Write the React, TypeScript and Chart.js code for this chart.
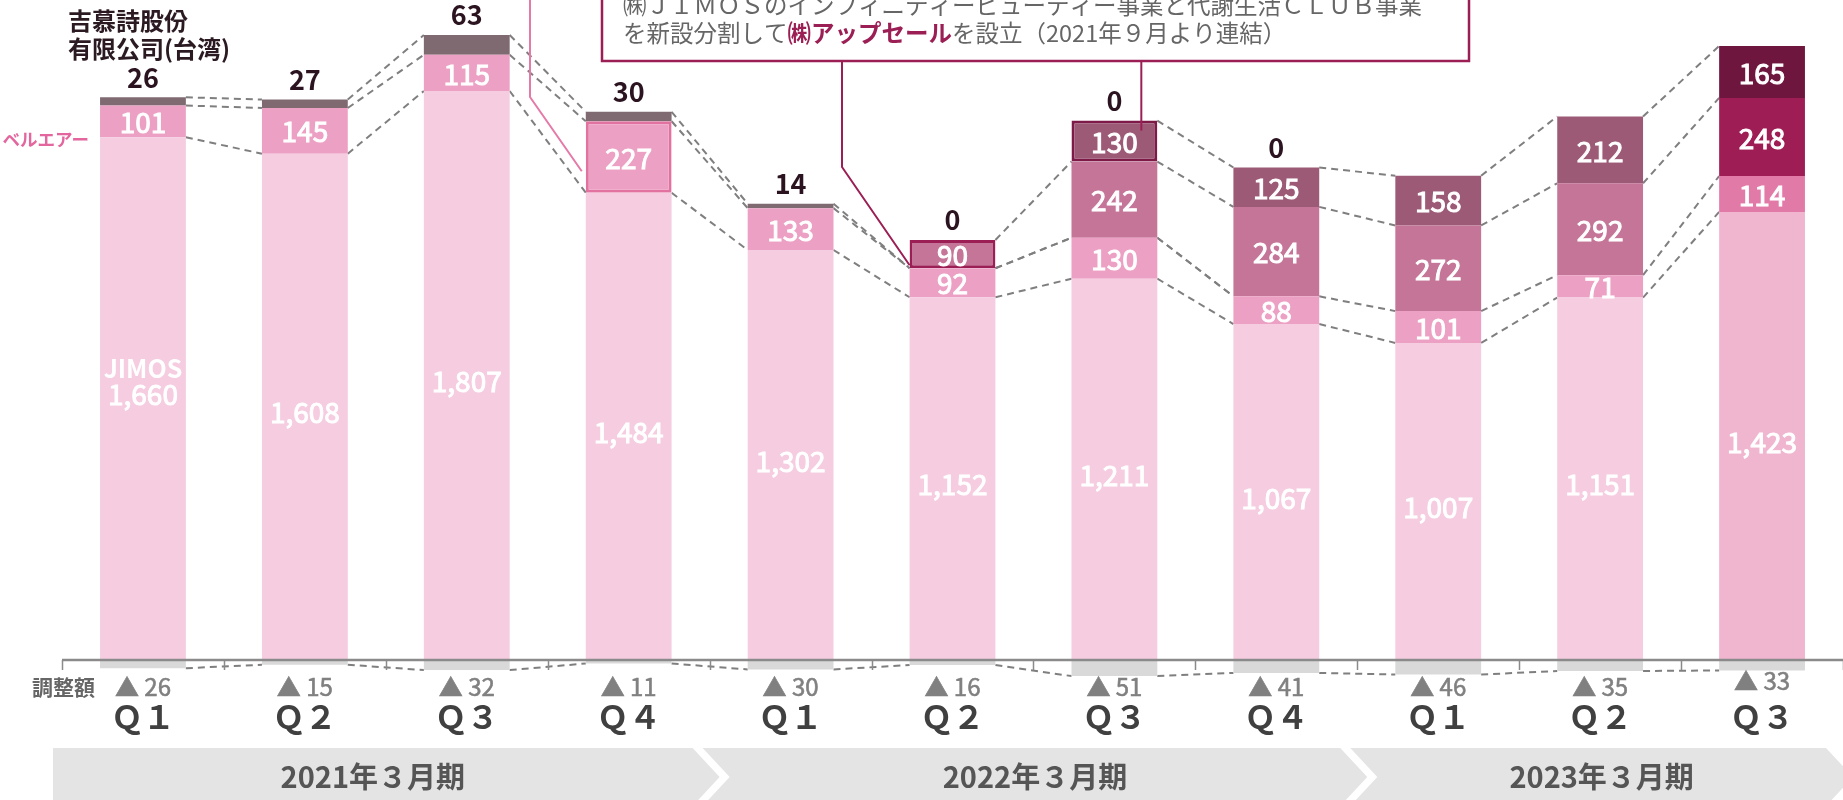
import React, { useEffect, useRef } from "react";
import { Chart, registerables } from "chart.js";

Chart.register(...registerables);

const FONT = '"Noto Sans CJK JP", "Noto Sans", sans-serif';

// ---- data ----
const categories = [
  "2021/3 Q1", "2021/3 Q2", "2021/3 Q3", "2021/3 Q4",
  "2022/3 Q1", "2022/3 Q2", "2022/3 Q3", "2022/3 Q4",
  "2023/3 Q1", "2023/3 Q2", "2023/3 Q3",
];
const quarterLabels = ["Ｑ１", "Ｑ２", "Ｑ３", "Ｑ４", "Ｑ１", "Ｑ２", "Ｑ３", "Ｑ４", "Ｑ１", "Ｑ２", "Ｑ３"];
const fiscalYears = ["2021年３月期", "2022年３月期", "2023年３月期"];
const fiscalYearQuarters = [4, 4, 3];

const adjustment = [-26, -15, -32, -11, -30, -16, -51, -41, -46, -35, -33];
const jimos = [1660, 1608, 1807, 1484, 1302, 1152, 1211, 1067, 1007, 1151, 1423];
const belair = [101, 145, 115, 227, 133, 92, 130, 88, 101, 71, 114];
const taiwan = [26, 27, 63, 30, 14, 0, 0, 0, null, null, null];
const upsell = [null, null, null, null, null, 90, 242, 284, 272, 292, 248];
const otherSeg = [null, null, null, null, null, null, 130, 125, 158, 212, 165];

const calloutLine1 = "㈱ＪＩＭＯＳのインフィニティービューティー事業と代謝生活ＣＬＵＢ事業";
const calloutLine2: [string, boolean][] = [
  ["を新設分割して", false],
  ["㈱アップセール", true],
  ["を設立（2021年９月より連結）", false],
];

const LAST = 10;
const pick = (i: number, normal: string, last: string) => (i === LAST ? last : normal);
const fmt = (v: number) => v.toLocaleString("en-US");

function getEl(chart: any, di: number, i: number) {
  return chart.getDatasetMeta(di).data[i];
}

// cumulative top value of dataset di at bar i
function cumTop(chart: any, di: number, i: number) {
  const dss = chart.data.datasets;
  if (di === 0) return dss[0].data[i];
  let s = 0;
  for (let k = 1; k <= di; k++) s += dss[k].data[i] || 0;
  return s;
}

// medium-weight text: fill plus a thin stroke of the same colour
function mediumText(ctx: any, t: string, x: number, y: number, w = 0.8) {
  ctx.fillText(t, x, y);
  ctx.lineWidth = w;
  ctx.strokeStyle = ctx.fillStyle;
  ctx.strokeText(t, x, y);
}

const overlayPlugin = {
  id: "overlay",
  beforeDatasetsDraw(chart: any) {
    const ctx = chart.ctx;
    const ys = chart.scales.y;
    ctx.save();
    ctx.strokeStyle = "#7f7f7f";
    ctx.lineWidth = 2;
    ctx.setLineDash([7, 5]);
    chart.data.datasets.forEach((ds: any, di: number) => {
      const meta = chart.getDatasetMeta(di);
      for (let i = 0; i < ds.data.length - 1; i++) {
        if (ds.data[i] == null || ds.data[i + 1] == null) continue;
        const a = meta.data[i];
        const b = meta.data[i + 1];
        ctx.beginPath();
        ctx.moveTo(a.x + a.width / 2, ys.getPixelForValue(cumTop(chart, di, i)));
        ctx.lineTo(b.x - b.width / 2, ys.getPixelForValue(cumTop(chart, di, i + 1)));
        ctx.stroke();
      }
    });
    ctx.restore();
  },
  afterDatasetsDraw(chart: any) {
    const ctx = chart.ctx;
    const { left, right } = chart.chartArea;
    const ys = chart.scales.y;
    const xs = chart.scales.x;
    const n = categories.length;
    const catW = (right - left) / n;
    const y0 = ys.getPixelForValue(0);
    ctx.save();

    // axis line + ticks
    ctx.strokeStyle = "#8a8a8a";
    ctx.lineWidth = 1.5;
    for (let k = 0; k <= n; k++) {
      const x = Math.round(left + k * catW) + 0.5;
      ctx.beginPath();
      ctx.moveTo(x, y0);
      ctx.lineTo(x, y0 + 10);
      ctx.stroke();
    }
    ctx.lineWidth = 2.5;
    ctx.beginPath();
    ctx.moveTo(left, y0);
    ctx.lineTo(right, y0);
    ctx.stroke();

    // inside labels
    ctx.textAlign = "center";
    ctx.textBaseline = "middle";
    ctx.fillStyle = "#ffffff";
    [1, 2, 4, 5].forEach((di) => {
      const ds = chart.data.datasets[di];
      ds.data.forEach((v: any, i: number) => {
        if (v == null || v === 0) return;
        const el = getEl(chart, di, i);
        let cy = (el.y + el.base) / 2;
        ctx.font = `28px ${FONT}`;
        if (di === 1) {
          if (i === 0) {
            ctx.font = `bold 25px ${FONT}`;
            ctx.fillText("JIMOS", el.x, cy - 30);
            ctx.font = `28px ${FONT}`;
            mediumText(ctx, fmt(v), el.x, cy - 4, 1);
            return;
          }
          cy += 5;
        }
        mediumText(ctx, fmt(v), el.x, cy + 1, 1);
      });
    });

    // taiwan labels above stack
    ctx.fillStyle = "#2b1320";
    ctx.font = `bold 27px ${FONT}`;
    taiwan.forEach((v, i) => {
      if (v == null) return;
      const total = jimos[i] + belair[i] + (v || 0) + (upsell[i] || 0) + (otherSeg[i] || 0);
      const top = ys.getPixelForValue(total);
      ctx.fillText(String(v), xs.getPixelForValue(i), top - 20);
    });

    // x labels
    ctx.fillStyle = "#666666";
    ctx.font = `bold 21px ${FONT}`;
    ctx.textAlign = "right";
    ctx.fillText("調整額", 95, 687);
    ctx.textAlign = "center";
    adjustment.forEach((v, i) => {
      const x = xs.getPixelForValue(i);
      ctx.fillStyle = "#808080";
      ctx.font = `24px ${FONT}`;
      mediumText(ctx, "▲ " + Math.abs(v), x, i === LAST ? 681 : 687, 0.6);
      ctx.fillStyle = "#404040";
      ctx.font = `bold 32px ${FONT}`;
      ctx.fillText(quarterLabels[i], x, 717);
    });

    // fiscal year bands
    const bTop = 748, bBot = 806, bMid = 777, d = 27;
    let start = 0;
    fiscalYears.forEach((label, b) => {
      const end = start + fiscalYearQuarters[b] - 1;
      const lx = xs.getPixelForValue(start) - catW / 2 - (b === 0 ? 9 : 7);
      const rx = xs.getPixelForValue(end) + catW / 2 - 17;
      ctx.fillStyle = "#e4e4e4";
      ctx.beginPath();
      ctx.moveTo(lx, bTop);
      ctx.lineTo(rx, bTop);
      ctx.lineTo(rx + d, bMid);
      ctx.lineTo(rx, bBot);
      ctx.lineTo(lx, bBot);
      if (b > 0) ctx.lineTo(lx + d, bMid);
      ctx.closePath();
      ctx.fill();
      ctx.fillStyle = "#555555";
      ctx.font = `bold 29px ${FONT}`;
      ctx.fillText(label, (lx + rx) / 2 + (b > 0 ? d / 2 : 0), bMid);
      start = end + 1;
    });

    // left labels
    ctx.textAlign = "left";
    ctx.fillStyle = "#2b1a22";
    ctx.font = `bold 24px ${FONT}`;
    ctx.fillText("吉慕詩股份", 68, 21);
    ctx.fillText("有限公司(台湾)", 68, 49);
    ctx.textAlign = "right";
    ctx.fillStyle = "#e3679e";
    ctx.font = `bold 17.5px ${FONT}`;
    ctx.fillText("ベルエアー", 89, 139);

    // pink callout line to Q4 belair box
    const b4 = getEl(chart, 2, 3);
    ctx.strokeStyle = "#e57aa9";
    ctx.lineWidth = 2;
    ctx.beginPath();
    ctx.moveTo(530, 0);
    ctx.lineTo(530, 97);
    ctx.lineTo(b4.x - b4.width / 2 - 4, b4.y + (b4.base - b4.y) * 0.7);
    ctx.stroke();

    // callout box
    ctx.fillStyle = "#ffffff";
    ctx.fillRect(602, -40, 867, 101);
    ctx.strokeStyle = "#9b1f55";
    ctx.lineWidth = 2.5;
    ctx.strokeRect(602, -40, 867, 101);

    const u6 = getEl(chart, 4, 5);
    const o7 = getEl(chart, 5, 6);
    ctx.lineWidth = 2;
    ctx.beginPath();
    ctx.moveTo(842, 61);
    ctx.lineTo(842, 167);
    ctx.lineTo(u6.x - u6.width / 2, u6.base - 3);
    ctx.stroke();
    ctx.beginPath();
    ctx.moveTo(o7.x + o7.width / 2 - 16, 61);
    ctx.lineTo(o7.x + o7.width / 2 - 16, o7.y + 10);
    ctx.stroke();

    ctx.textAlign = "left";
    ctx.fillStyle = "#666666";
    ctx.font = `23.5px ${FONT}`;
    ctx.fillText(calloutLine1, 623, 5);
    let tx = 623;
    calloutLine2.forEach(([t, bold]) => {
      ctx.font = `${bold ? "bold " : ""}23.5px ${FONT}`;
      ctx.fillStyle = bold ? "#9b1f55" : "#666666";
      ctx.fillText(t, tx, 33);
      tx += ctx.measureText(t).width;
    });

    ctx.restore();
  },
};

export default function App() {
  const ref = useRef<HTMLCanvasElement | null>(null);
  useEffect(() => {
    document.body.style.margin = "0";
    const canvas = ref.current!;
    const chart = new Chart(canvas, {
      type: "bar",
      data: {
        labels: categories,
        datasets: [
          {
            label: "調整額",
            data: adjustment,
            backgroundColor: "#d9d9d9",
            borderWidth: 0,
          },
          {
            label: "JIMOS",
            data: jimos,
            backgroundColor: jimos.map((_, i) => pick(i, "#f5cce0", "#f0b6d0")),
            borderWidth: 0,
          },
          {
            label: "ベルエアー",
            data: belair,
            backgroundColor: belair.map((_, i) => pick(i, "#eca0c4", "#e27aa8")),
            borderColor: belair.map((_, i) => (i === 3 ? "#e2729f" : "rgba(0,0,0,0)")),
            borderWidth: belair.map((_, i) => (i === 3 ? 3 : 0)),
            borderSkipped: false,
          },
          {
            label: "吉慕詩股份有限公司(台湾)",
            data: taiwan,
            backgroundColor: "#806a72",
            borderWidth: 0,
          },
          {
            label: "アップセール",
            data: upsell,
            backgroundColor: upsell.map((_, i) => pick(i, "#c47598", "#9e1d55")),
            borderColor: upsell.map((_, i) => (i === 5 ? "#9b1f55" : "rgba(0,0,0,0)")),
            borderWidth: upsell.map((_, i) => (i === 5 ? 3 : 0)),
            borderSkipped: false,
          },
          {
            label: "その他",
            data: otherSeg,
            backgroundColor: otherSeg.map((_, i) => pick(i, "#9c5a76", "#6f163e")),
            borderColor: otherSeg.map((_, i) => (i === 6 ? "#7d1a48" : "rgba(0,0,0,0)")),
            borderWidth: otherSeg.map((_, i) => (i === 6 ? 3 : 0)),
            borderSkipped: false,
          },
        ],
      },
      options: {
        responsive: false,
        animation: false,
        devicePixelRatio: 1,
        layout: { padding: { left: 62, right: 0, top: 0, bottom: 108.5 } },
        datasets: { bar: { barPercentage: 0.53, categoryPercentage: 1 } },
        scales: {
          x: { stacked: true, display: false, grid: { display: false } },
          y: { stacked: true, display: false, min: -100, max: 2096 },
        },
        plugins: { legend: { display: false }, tooltip: { enabled: false } },
      },
      plugins: [overlayPlugin],
    } as any);
    return () => chart.destroy();
  }, []);
  return <canvas ref={ref} width={1843} height={800} style={{ display: "block", width: 1843, height: 800 }} />;
}
